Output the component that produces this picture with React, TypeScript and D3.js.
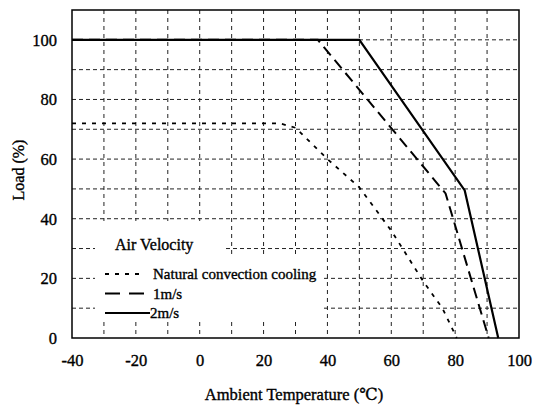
import React, { useEffect, useRef } from 'react';
import * as d3 from 'd3';

// derating curves
const naturalTemp = [-40, 25, 30, 40, 50, 60, 70, 76, 80.5];
const naturalLoad = [72, 72, 70.5, 60, 50.5, 36, 19, 10, 0];
const oneMsTemp = [-40, 37, 77, 90.5];
const oneMsLoad = [100, 100, 48.5, 0];
const twoMsTemp = [-40, 50, 83, 93.5];
const twoMsLoad = [100, 100, 49.5, 0];

const xTicks = [-40, -20, 0, 20, 40, 60, 80, 100];
const yTicks = [0, 20, 40, 60, 80, 100];
const xGrid = [-30, -20, -10, 0, 10, 20, 30, 40, 50, 60, 70, 80, 90];
const yGrid = [10, 20, 30, 40, 50, 60, 70, 80, 90, 100];

const legendLabels = ['Natural convection cooling', '1m/s', '2m/s'];
const legendDash = ['4,6', '15,9', null];

const W = 535, H = 408;
const FONT = "'Liberation Serif', Tinos, 'DejaVu Serif', serif";

// scanned text looks heavier than plain Times, thicken it a little
const inkText = (sel: any, size: number) =>
	sel.style('font-family', FONT).style('font-size', size + 'px')
		.attr('fill', '#000').attr('stroke', '#000').attr('stroke-width', 0.35);

const drawChart = (svgEl: SVGSVGElement) => {
	const svg = d3.select(svgEl);
	svg.selectAll('*').remove();

	const x = d3.scaleLinear().domain([-40, 100]).range([72, 519]);
	const y = d3.scaleLinear().domain([0, 110]).range([338, 10]);

	// grid
	svg.append('g').selectAll('line').data(xGrid).enter().append('line')
		.attr('x1', d => x(d)).attr('x2', d => x(d))
		.attr('y1', y(110)).attr('y2', y(0))
		.attr('stroke', '#222').attr('stroke-width', 1).attr('stroke-dasharray', '4,4');
	svg.append('g').selectAll('line').data(yGrid).enter().append('line')
		.attr('x1', x(-40)).attr('x2', x(100))
		.attr('y1', d => y(d)).attr('y2', d => y(d))
		.attr('stroke', '#222').attr('stroke-width', 1).attr('stroke-dasharray', '4,3');

	// legend background hides the grid behind it
	svg.append('rect').attr('x', 95).attr('y', 221).attr('width', 130).attr('height', 36).attr('fill', '#fff');
	svg.append('rect').attr('x', 95).attr('y', 256).attr('width', 229).attr('height', 66).attr('fill', '#fff');

	// frame
	svg.append('rect')
		.attr('x', x(-40)).attr('y', y(110))
		.attr('width', x(100) - x(-40)).attr('height', y(0) - y(110))
		.attr('fill', 'none').attr('stroke', '#000').attr('stroke-width', 1.5);

	const line = d3.line<[number, number]>().x(d => x(d[0])).y(d => y(d[1]));
	const series = [
		{ t: naturalTemp, l: naturalLoad, dash: '4,6', w: 1.8 },
		{ t: oneMsTemp, l: oneMsLoad, dash: '11,6', w: 2 },
		{ t: twoMsTemp, l: twoMsLoad, dash: null, w: 2.2 },
	];
	series.forEach(s => {
		const pts = s.t.map((t, i) => [t, s.l[i]] as [number, number]);
		svg.append('path')
			.attr('d', line(pts))
			.attr('fill', 'none')
			.attr('stroke', '#000')
			.attr('stroke-width', s.w)
			.attr('stroke-dasharray', s.dash);
	});

	// axes (labels only)
	const yAxis = d3.axisLeft(y).tickValues(yTicks).tickSize(0).tickPadding(15).tickFormat(d => String(d));
	const gy = svg.append('g').attr('transform', `translate(${x(-40)},0)`).call(yAxis);
	gy.select('.domain').remove();
	inkText(gy.selectAll('text'), 16.5);

	const xAxis = d3.axisBottom(x).tickValues(xTicks).tickSize(0).tickPadding(16).tickFormat(d => String(d));
	const gx = svg.append('g').attr('transform', `translate(0,${y(0)})`).call(xAxis);
	gx.select('.domain').remove();
	inkText(gx.selectAll('text'), 16.5);

	inkText(svg.append('text')
		.text('Ambient Temperature (℃)')
		.attr('x', 294).attr('y', 400)
		.attr('text-anchor', 'middle'), 16.5);

	inkText(svg.append('text')
		.text('Load (%)')
		.attr('transform', 'translate(24,170) rotate(-90)')
		.attr('text-anchor', 'middle'), 16);

	// legend
	inkText(svg.append('text')
		.text('Air Velocity')
		.attr('x', 115).attr('y', 250), 16);

	legendLabels.forEach((lab, i) => {
		const ly = 274 + i * 19.5;
		svg.append('line')
			.attr('x1', 105).attr('x2', i === 2 ? 150 : 144)
			.attr('y1', ly).attr('y2', ly)
			.attr('stroke', '#000').attr('stroke-width', i === 0 ? 1.8 : 2)
			.attr('stroke-dasharray', legendDash[i]);
		inkText(svg.append('text')
			.text(lab)
			.attr('x', i === 2 ? 150 : 153).attr('y', ly + 5), 15);
	});
};

const App = () => {
	const ref = useRef<SVGSVGElement>(null);
	useEffect(() => {
		if (ref.current) drawChart(ref.current);
	}, []);
	return (
		<svg ref={ref} width={W} height={H}
			style={{ position: 'absolute', left: 0, top: 0, background: '#fff' }} />
	);
};

export default App;
